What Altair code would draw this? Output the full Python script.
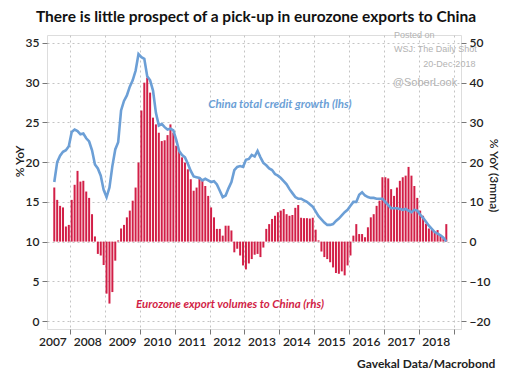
import altair as alt
import pandas as pd

# Monthly observations, Jul 2007 .. Oct 2018
first_year = 2007
first_month = 7

# China total credit growth, % YoY (left axis)
credit_growth = [
    17.5, 20.0, 20.8, 21.3, 21.5, 22.0,
    23.8, 24.1, 23.9, 23.5, 23.6, 23.0, 22.6, 21.5, 19.7, 19.2, 18.3, 16.5,
    15.6, 16.8, 19.5, 21.6, 22.5, 26.5, 27.7, 28.4, 29.5, 30.3, 31.5, 33.6,
    33.2, 33.0, 30.8, 30.3, 29.0, 26.2, 24.6, 24.8, 24.4, 24.1, 24.2, 24.0,
    22.8, 21.4, 20.9, 20.6, 19.8, 18.9, 18.2, 18.1, 18.0, 17.7, 17.9, 17.7,
    17.5, 17.6, 17.2, 16.4, 15.6, 15.8, 16.7, 17.5, 19.0, 19.4, 19.5, 19.4,
    20.3, 20.4, 20.9, 20.7, 21.4, 20.6, 19.9, 19.6, 19.2, 19.0, 18.5, 18.3,
    18.0, 17.6, 17.2, 16.6, 16.1, 15.6, 15.4, 15.4, 15.2, 15.0, 14.7, 14.4,
    13.8, 13.2, 12.8, 12.4, 12.1, 12.1, 12.2, 12.6, 12.9, 13.3, 13.7, 14.0,
    14.5, 15.0, 15.0, 15.9, 16.2, 15.8, 15.6, 15.5, 15.5, 15.4, 15.4, 15.4,
    15.0, 14.6, 14.2, 14.2, 14.2, 14.1, 14.0, 14.1, 13.9, 13.7, 14.0, 13.9,
    13.4, 13.0, 12.5, 12.0, 11.6, 11.2, 11.0, 10.8, 10.5, 10.0,
]

# Eurozone export volumes to China, % YoY 3mma (right axis)
export_volumes = [
    13.6, 10.5, 9.0, 8.6, 3.8, 4.2,
    10.5, 14.3, 17.8, 15.1, 15.3, 12.6, 11.0, 6.9, 1.3, -3.1, -3.5, -5.9,
    -13.1, -15.6, -12.7, -4.8, 0.3, 3.3, 4.2, 6.1, 7.8, 10.3, 13.6, 19.9,
    33.0, 40.0, 41.3, 37.5, 31.2, 29.5, 27.4, 25.3, 25.5, 26.8, 29.5, 27.4,
    24.1, 22.8, 21.2, 19.9, 18.2, 15.7, 12.8, 13.6, 16.2, 15.5, 14.0, 11.5,
    8.6, 6.1, 3.2, 3.2, 1.5, 4.0, 4.0, 2.8, -2.7, -1.8, -3.5, -6.0,
    -7.0, -5.5, -4.4, -3.3, -3.1, -3.9, -1.5, 3.2, 4.4, 5.7, 6.5, 7.4,
    7.8, 8.2, 6.9, 6.5, 6.7, 8.5, 9.2, 6.0, 5.9, 5.9, 5.8, 6.0,
    3.0, 0.3, -2.5, -3.9, -4.4, -5.2, -6.5, -7.9, -8.1, -7.5, -8.5, -6.0,
    -3.5, 1.5, 4.4, 1.9, 1.9, 1.1, 3.6, 6.1, 6.9, 9.0, 10.3, 16.2,
    16.2, 15.9, 13.2, 11.5, 13.6, 15.3, 16.2, 16.6, 18.8, 16.6, 14.0, 11.0,
    7.8, 6.5, 4.5, 3.3, 2.9, 2.5, 2.9, 1.5, 0.8, 4.4,
]

year_ticks = list(range(2008, 2020))          # year boundaries; label = previous year
left_ticks = [0, 5, 10, 15, 20, 25, 30, 35]
right_ticks = [-20, -10, 0, 10, 20, 30, 40, 50]

title_text = "There is little prospect of a pick-up in eurozone exports to China"
source_text = "Gavekal Data/Macrobond"
credit_label = "China total credit growth (lhs)"
export_label = "Eurozone export volumes to China (rhs)"
watermark = ["Posted on", "WSJ: The Daily Shot", "20-Dec-2018", "@SoberLook"]

n = len(credit_growth)
t = [first_year + (first_month - 1 + i + 0.5) / 12 for i in range(n)]
df = pd.DataFrame({"t": t, "credit": credit_growth, "exports": export_volumes})

BLUE = "#6c9fd6"
RED = "#d21f47"
FONT = "Lato"
X_DOM = [2007.476, 2019.07]
L_DOM = [-1, 36]
R_DOM = [-22, 52]


def xe(field):
    return alt.X(
        field,
        type="quantitative",
        scale=alt.Scale(domain=X_DOM, nice=False, zero=False),
        axis=alt.Axis(
            values=year_ticks, labelExpr="'' + (datum.value - 1)", labelOffset=-17.85,
            grid=True, gridDash=[2, 3], gridColor="#c4c4c4", ticks=True, tickSize=5,
            tickColor="#777", domain=False, labelFontSize=12, labelPadding=2,
            labelColor="#222", labelFont=FONT, labelFontWeight=600, title=None,
            labelFlush=False, labelOverlap=False,
        ),
    )


def ly(field):
    return alt.Y(field, type="quantitative",
                 scale=alt.Scale(domain=L_DOM, nice=False, zero=False), axis=None)


bars = alt.Chart(df).mark_bar(size=2.0, color=RED).encode(
    x=xe("t"),
    y=alt.Y(
        "exports:Q",
        scale=alt.Scale(domain=R_DOM, nice=False, zero=False),
        axis=alt.Axis(
            orient="right", values=right_ticks, grid=False, title="% YoY (3mma)",
            tickSize=5, tickColor="#777", domain=False, labelFontSize=12, labelPadding=3,
            labelColor="#222", labelFont=FONT, labelFontWeight=600,
            titleFont=FONT, titleFontSize=12, titleFontWeight=600, titleColor="#222",
            titleX=32, titleY=140, titleAngle=90, titleBaseline="middle",
        ),
    ),
    y2=alt.datum(0),
)

line = alt.Chart(df).mark_line(color=BLUE, strokeWidth=2.6).encode(
    x=xe("t"),
    y=alt.Y(
        "credit:Q",
        scale=alt.Scale(domain=L_DOM, nice=False, zero=False),
        axis=alt.Axis(
            orient="left", values=left_ticks, grid=True, gridDash=[2, 3],
            gridColor="#c4c4c4", title="% YoY", tickSize=5, tickColor="#777",
            domain=False, labelFontSize=12, labelPadding=3, labelColor="#222",
            labelFont=FONT, labelFontWeight=600,
            titleFont=FONT, titleFontSize=12, titleFontWeight=600, titleColor="#222",
            titleX=-28, titleY=126, titleAngle=-90, titleBaseline="middle",
        ),
    ),
)

ann = pd.DataFrame({
    "t": [2011.96, 2009.89],
    "v": [27.2, 2.0],
    "label": [credit_label, export_label],
    "c": [BLUE, RED],
})
labels = alt.Chart(ann).mark_text(
    font=FONT, fontSize=11.5, fontStyle="italic", fontWeight="bold", align="left",
    baseline="middle",
).encode(x=xe("t"), y=ly("v"), text="label:N", color=alt.Color("c:N", scale=None))

wm = pd.DataFrame({
    "t": [2017.87, 2018.48, 2018.88, 2018.18],
    "v": [36.0, 34.3, 32.4, 30.0],
    "label": watermark,
    "s": [9, 9, 9, 11],
})
marks_wm = alt.Chart(wm).mark_text(
    font="Liberation Sans", color="#b3b3b3", align="center", baseline="middle",
).encode(x=xe("t"), y=ly("v"), text="label:N", size=alt.Size("s:Q", scale=None))

src = pd.DataFrame({"t": [2020.2], "v": [-5.4], "label": [source_text]})
marks_src = alt.Chart(src).mark_text(
    font=FONT, fontSize=12, fontWeight="bold", color="#222", align="right", baseline="middle",
).encode(x=xe("t"), y=ly("v"), text="label:N")

chart = alt.layer(bars, line, labels, marks_wm, marks_src).resolve_scale(
    y="independent"
).properties(
    width=414,
    height=294,
    padding={"left": 39, "top": 27, "right": 45, "bottom": 43},
    autosize=alt.AutoSizeParams(type="none"),
    title=alt.TitleParams(
        title_text, font=FONT, fontSize=15.5, fontWeight="bold", color="#111",
        anchor="middle", offset=6, dx=2,
    ),
).configure_view(stroke="#8c8c8c", strokeWidth=1.3).configure(background="white")

chart.save("out.html", embed_options={"renderer": "svg", "actions": False})
